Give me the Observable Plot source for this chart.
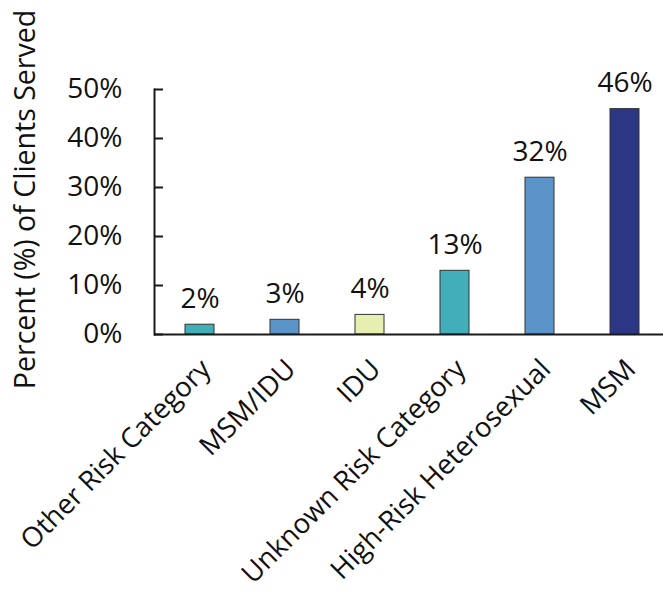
<!DOCTYPE html>
<html>
<head>
<meta charset="utf-8">
<script src="https://cdn.jsdelivr.net/npm/d3@7"></script>
<script src="https://cdn.jsdelivr.net/npm/@observablehq/plot@0.6"></script>
<style>
  html, body { margin: 0; padding: 0; background: #fff; }
  #chart svg { display: block; }
</style>
</head>
<body>
<div id="chart"></div>
<script>
const categories = ["Other Risk Category", "MSM/IDU", "IDU", "Unknown Risk Category", "High-Risk Heterosexual", "MSM"];
const values = [2, 3, 4, 13, 32, 46];
const barColors = ["#41aeb9", "#5b94c9", "#e6efb1", "#41aeb9", "#5b94c9", "#2b3785"];
const yTicks = [0, 10, 20, 30, 40, 50];
const yTitle = "Percent (%) of Clients Served";

const rows = categories.map((c, i) => ({cat: c, value: values[i]}));

const W = 663, H = 598;
const mL = 154, mT = 89, mB = 264;

const chart = Plot.plot({
  width: W,
  height: H,
  marginLeft: mL,
  marginRight: 0,
  marginTop: mT,
  marginBottom: mB,
  style: {fontFamily: "'Open Sans', 'Noto Sans', sans-serif", fontSize: "27px", color: "#111", background: "#fff"},
  x: {domain: categories, range: [154, 669], paddingInner: 0.662, paddingOuter: 0.331, axis: null},
  y: {domain: [0, 50], axis: null},
  color: {domain: categories, range: barColors},
  marks: [
    Plot.barY(rows, {x: "cat", y: "value", fill: "cat", stroke: "#333", strokeWidth: 1}),
    Plot.ruleY([0], {stroke: "#1a1a1a", strokeWidth: 2}),
    Plot.frame({anchor: "left", stroke: "#1a1a1a", strokeWidth: 2}),
    Plot.tickY(yTicks, {y: d => d, insetRight: W - mL - 9, stroke: "#1a1a1a", strokeWidth: 2}),
    Plot.axisY({ticks: yTicks, tickSize: 0, tickPadding: 32, tickFormat: d => d + "%", label: null, fontSize: 28, fill: "#111"}),
    Plot.text(rows, {x: "cat", y: "value", text: d => d.value + "%", lineAnchor: "bottom", dy: -17, fontSize: 28, fill: "#111"}),
    Plot.text(rows, {x: "cat", frameAnchor: "bottom", text: "cat", rotate: -45, textAnchor: "end", lineAnchor: "middle", dx: 6, dy: 30, fontSize: 27.5, fill: "#111"}),
    Plot.text([yTitle], {frameAnchor: "left", text: d => d, rotate: -90, textAnchor: "middle", lineAnchor: "bottom", dx: 34 - mL, dy: 199 - (mT + (H - mB)) / 2, fontSize: 28.5, fill: "#111"})
  ]
});
document.getElementById("chart").appendChild(chart);
</script>
</body>
</html>
